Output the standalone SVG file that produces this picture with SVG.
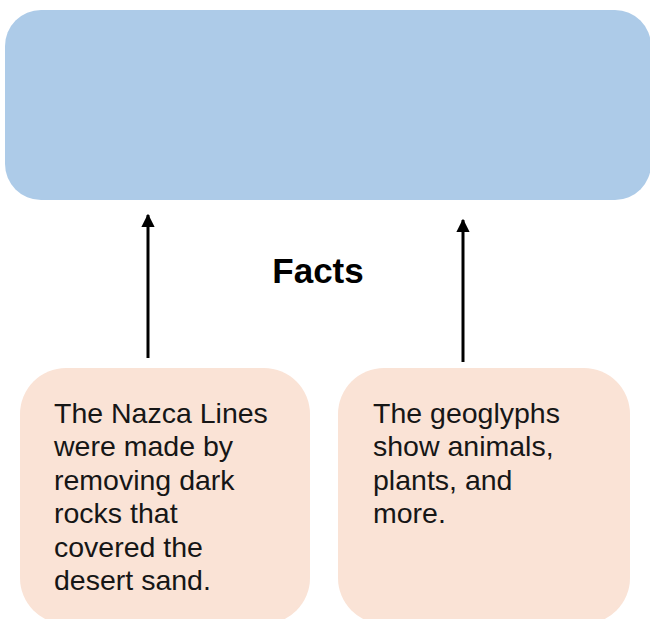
<svg xmlns="http://www.w3.org/2000/svg" width="650" height="619" viewBox="0 0 650 619">
  <style>
    .fact { fill: #fae3d6; }
    .body { font-family: "Liberation Sans", Arial, sans-serif; font-size: 28.5px; fill: #161616; }
    .title { font-family: "Liberation Sans", Arial, sans-serif; font-size: 35px; font-weight: bold; fill: #000; }
    .link { stroke: #000; stroke-width: 3; fill: none; marker-end: url(#head); }
  </style>
  <defs>
    <marker id="head" viewBox="0 0 10 10" refX="9" refY="5" markerWidth="4.4" markerHeight="4.4" orient="auto" markerUnits="strokeWidth">
      <path d="M0,0 L10,5 L0,10 Z" fill="#000"/>
    </marker>
  </defs>
  <rect width="650" height="619" fill="#fff"/>

  <g id="main-idea">
    <rect x="5" y="10" width="646" height="190" rx="36" ry="36" fill="#adcbe8"/>
  </g>

  <g id="label-facts">
    <text class="title" x="318" y="283" text-anchor="middle">Facts</text>
  </g>

  <g id="connectors">
    <line class="link" x1="148" y1="358" x2="148" y2="215"/>
    <line class="link" x1="463" y1="362" x2="463" y2="220"/>
  </g>

  <g id="fact-nazca">
    <rect class="fact" x="20" y="368" width="290" height="256" rx="46" ry="46"/>
    <text class="body">
      <tspan x="54" y="423">The Nazca Lines</tspan>
      <tspan x="54" y="456">were made by</tspan>
      <tspan x="54" y="490">removing dark</tspan>
      <tspan x="54" y="523">rocks that</tspan>
      <tspan x="54" y="557">covered the</tspan>
      <tspan x="54" y="590">desert sand.</tspan>
    </text>
  </g>

  <g id="fact-geoglyphs">
    <rect class="fact" x="338" y="368" width="292" height="256" rx="46" ry="46"/>
    <text class="body">
      <tspan x="373" y="423">The geoglyphs</tspan>
      <tspan x="373" y="456">show animals,</tspan>
      <tspan x="373" y="490">plants, and</tspan>
      <tspan x="373" y="523">more.</tspan>
    </text>
  </g>
</svg>
